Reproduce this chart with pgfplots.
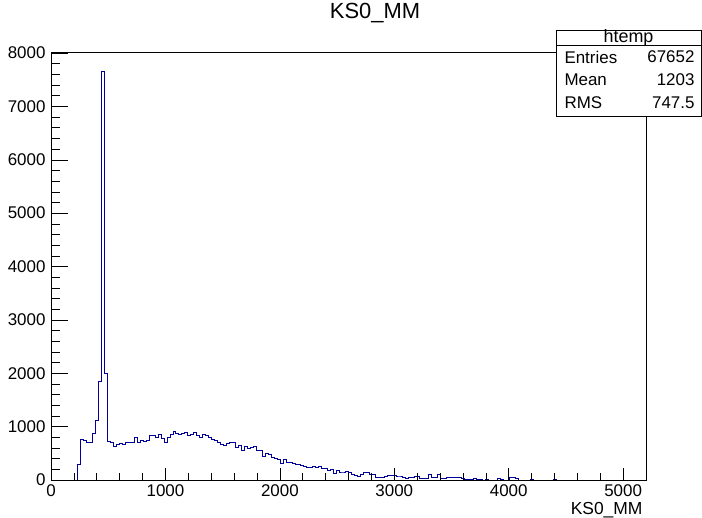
\documentclass[border=0pt]{standalone}
\usepackage{fontspec}
\setmainfont{Liberation Sans}
\usepackage{pgfplots}
\pgfplotsset{compat=1.18}
\definecolor{rootblue}{RGB}{0,0,153}

\newcommand{\fs}[1]{\fontsize{#1}{#1}\selectfont}

\begin{document}
\begin{tikzpicture}
% page: 702 x 518 bp, axis frame from (51,52) to (646,480) in image pixels
\path[use as bounding box] (-51bp,-38bp) rectangle (651bp,480bp);
\begin{axis}[
  scale only axis,
  width=595bp, height=428bp,
  xmin=0, xmax=5200, ymin=0, ymax=8020,
  axis on top,
  axis line style={line width=0.8bp},
  tick align=inside,
  xtick pos=bottom, ytick pos=left,
  xtick={0,1000,...,5000},
  ytick={0,1000,...,8000},
  minor x tick num=4, minor y tick num=4,
  xtick style={black, line width=0.6bp, /pgfplots/major tick length=12bp, /pgfplots/minor tick length=7bp},
  ytick style={black, line width=0.6bp, /pgfplots/major tick length=17bp, /pgfplots/minor tick length=9bp},
  scaled ticks=false,
  /pgf/number format/1000 sep={},
  /pgf/number format/assume math mode=true,
  ticklabel style={font=\fs{17}},
  xticklabel style={yshift=-1bp},
  yticklabel style={xshift=-2bp},
  clip=false,
]
\addplot[const plot, rootblue, line width=0.9bp] coordinates {
(0,0) (234,290) (260,756) (286,740) (312,706) (338,706) (364,869) (390,1118)
(416,1848) (442,7650) (468,2000) (494,730) (520,700) (546,631) (572,668)
(598,680) (624,668) (650,712) (676,706) (702,706) (728,794) (754,712)
(780,740) (806,720) (832,750) (858,837) (884,837) (910,806) (936,850)
(962,780) (988,712) (1014,806) (1040,856) (1066,918) (1092,880) (1118,850)
(1144,880) (1170,899) (1196,840) (1222,856) (1248,899) (1274,840) (1300,793)
(1326,856) (1352,840) (1378,793) (1404,756) (1430,740) (1456,712) (1482,660)
(1508,650) (1534,681) (1560,700) (1586,700) (1612,618) (1638,650) (1664,557)
(1690,620) (1716,600) (1742,612) (1768,620) (1794,557) (1820,545) (1846,444)
(1872,494) (1898,470) (1924,420) (1950,400) (1976,381) (2002,306) (2028,381)
(2054,338) (2080,320) (2106,306) (2132,293) (2158,294) (2184,275) (2210,260)
(2236,232) (2262,240) (2288,256) (2314,244) (2340,250) (2366,220) (2392,212)
(2418,181) (2444,190) (2470,131) (2496,181) (2522,150) (2548,150) (2574,169)
(2600,150) (2626,100) (2652,87) (2678,69) (2704,100) (2730,150) (2756,137)
(2782,106) (2808,106) (2834,56) (2860,56) (2886,56) (2912,75) (2938,87)
(2964,87) (2990,87) (3016,75) (3042,75) (3068,56) (3094,25) (3120,56)
(3146,56) (3172,65) (3198,75) (3224,37) (3250,37) (3276,25) (3302,100)
(3328,56) (3354,56) (3380,100) (3406,25) (3432,25) (3458,50) (3484,44)
(3510,56) (3536,44) (3562,44) (3588,25) (3614,12) (3640,12) (3666,12)
(3692,25) (3718,12) (3744,12) (3770,0) (3796,12) (3822,0) (3900,25)
(3926,12) (3952,0) (4004,44) (4030,44) (4056,25) (4082,0) (4186,19)
(4212,0) (4394,12) (4420,0) (5200,0)
};
\end{axis}
% title
\node[font=\fs{22}] at (324bp,467bp) {KS0\_MM};
% x axis label
\node[font=\fs{17.5}, anchor=east] at (595bp,-30bp) {KS0\_MM};
% stats box
\draw[fill=white, line width=0.8bp] (505bp,364bp) rectangle (650bp,450bp);
\draw[line width=0.8bp] (505bp,435bp) -- (650bp,435bp);
\node[font=\fs{18}] at (577.5bp,442.5bp) {htemp};
\node[font=\fs{17}, anchor=west] at (510bp,423bp) {Entries};
\node[font=\fs{17}, anchor=west] at (510bp,400bp) {Mean};
\node[font=\fs{17}, anchor=west] at (510bp,377bp) {RMS};
\node[font=\fs{17}, anchor=east] at (647bp,423bp) {67652};
\node[font=\fs{17}, anchor=east] at (647bp,400bp) {1203};
\node[font=\fs{17}, anchor=east] at (647bp,377bp) {747.5};
\end{tikzpicture}
\end{document}
